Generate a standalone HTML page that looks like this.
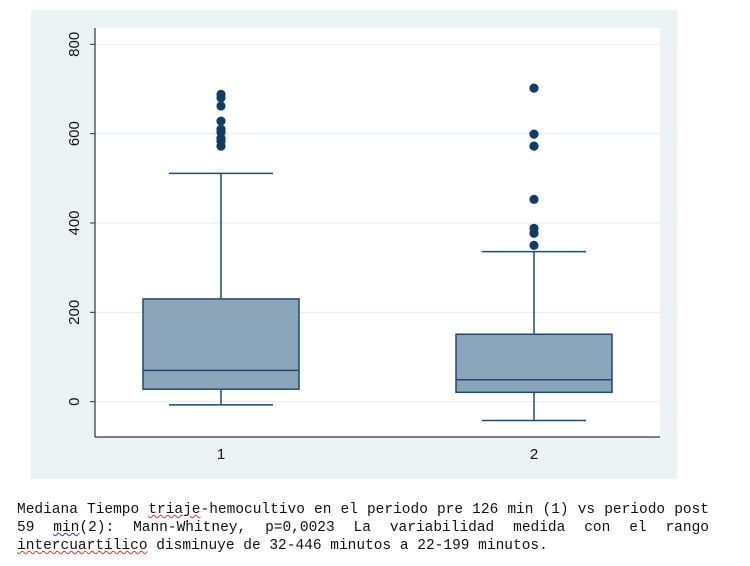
<!DOCTYPE html>
<html><head><meta charset="utf-8"><style>
body{margin:0;width:750px;height:566px;background:#fff;position:relative;overflow:hidden}
.cap{position:absolute;left:17px;width:692px;font-family:"Liberation Mono","DejaVu Sans Mono",monospace;font-size:14.5px;color:#111;text-align:justify;text-align-last:justify;white-space:nowrap;line-height:18px}
.u{text-decoration:underline wavy #d33;text-decoration-thickness:1px}
.ub{text-decoration:underline wavy #33c;text-decoration-thickness:1px}
</style></head><body>
<svg id="chart" width="750" height="480" style="position:absolute;left:0;top:0">
<rect x="31" y="10" width="646" height="469" fill="#eaf2f3"/>
<rect x="95" y="28" width="565" height="409" fill="#fff"/>
<g id="grid"></g><g id="boxes"></g>
<line x1="95" y1="28" x2="95" y2="437" stroke="#333" stroke-width="1.2"/>
<line x1="95" y1="437" x2="660" y2="437" stroke="#333" stroke-width="1.2"/>
</svg>
<div class="cap" style="top:501px">Mediana Tiempo <span class="u">triaje</span>-hemocultivo en el periodo pre 126 min (1) vs periodo post</div>
<div class="cap" style="top:519px">59 <span class="ub">min</span>(2): Mann-Whitney, p=0,0023 La variabilidad medida con el rango</div>
<div class="cap" style="top:537px;text-align-last:left"><span class="u">intercuartílico</span> disminuye de 32-446 minutos a 22-199 minutos.</div>
<script>
const categories=["1","2"];
const q1=[28,21];
const medians=[70,49];
const q3=[230,151];
const whiskerLow=[-7,-42];
const whiskerHigh=[511,336];
const outliers=[[688,680,662,628,610,603,590,583,572],[702,599,572,453,388,377,350]];
const yTicks=[0,200,400,600,800];
const NS="http://www.w3.org/2000/svg";
const y=v=>401.7-(v/800)*357.4;
const xc=i=>221+i*313;
function mk(p,t,a){const e=document.createElementNS(NS,t);for(const k in a)e.setAttribute(k,a[k]);p.appendChild(e);return e;}
const g=document.getElementById('grid'),b=document.getElementById('boxes');
yTicks.forEach(t=>{
const l=mk(g,'line',{x1:95,x2:660,y1:y(t),y2:y(t),stroke:'#e8eff1','stroke-width':1.2});


const k=mk(g,'line',{x1:90,x2:95,y1:y(t),y2:y(t),stroke:'#333'});


const tx=mk(g,'text',{x:0,y:0,transform:`translate(79,${y(t)}) rotate(-90)`,'text-anchor':'middle','font-family':'Liberation Sans, sans-serif','font-size':15,fill:'#111'});
tx.textContent=t;


});
categories.forEach((c,i)=>{
const cx=xc(i),st='#1d4a70';
const w1=mk(b,'line',{x1:cx,x2:cx,y1:y(q3[i]),y2:y(whiskerHigh[i]),stroke:st,'stroke-width':1.5});


const w2=mk(b,'line',{x1:cx,x2:cx,y1:y(q1[i]),y2:y(whiskerLow[i]),stroke:st,'stroke-width':1.5});


[whiskerHigh[i],whiskerLow[i]].forEach((v,j)=>{
const cap=mk(b,'line',{x1:cx-52,x2:cx+52,y1:y(v),y2:y(v),stroke:st,'stroke-width':1.5});


});
const r=mk(b,'rect',{x:cx-78,width:156,y:y(q3[i]),height:y(q1[i])-y(q3[i]),fill:'#8aa4b9',stroke:st,'stroke-width':1.5});


const m=mk(b,'line',{x1:cx-78,x2:cx+78,y1:y(medians[i]),y2:y(medians[i]),stroke:st,'stroke-width':1.5});


outliers[i].forEach(v=>{
const d=mk(b,'circle',{cx:cx,cy:y(v),r:4.6,fill:'#0f3d66'});


});
const lb=mk(b,'text',{x:cx,y:459,'text-anchor':'middle','font-family':'Liberation Sans, sans-serif','font-size':15,fill:'#111'});
lb.textContent=c;


});
</script>
</body></html>
